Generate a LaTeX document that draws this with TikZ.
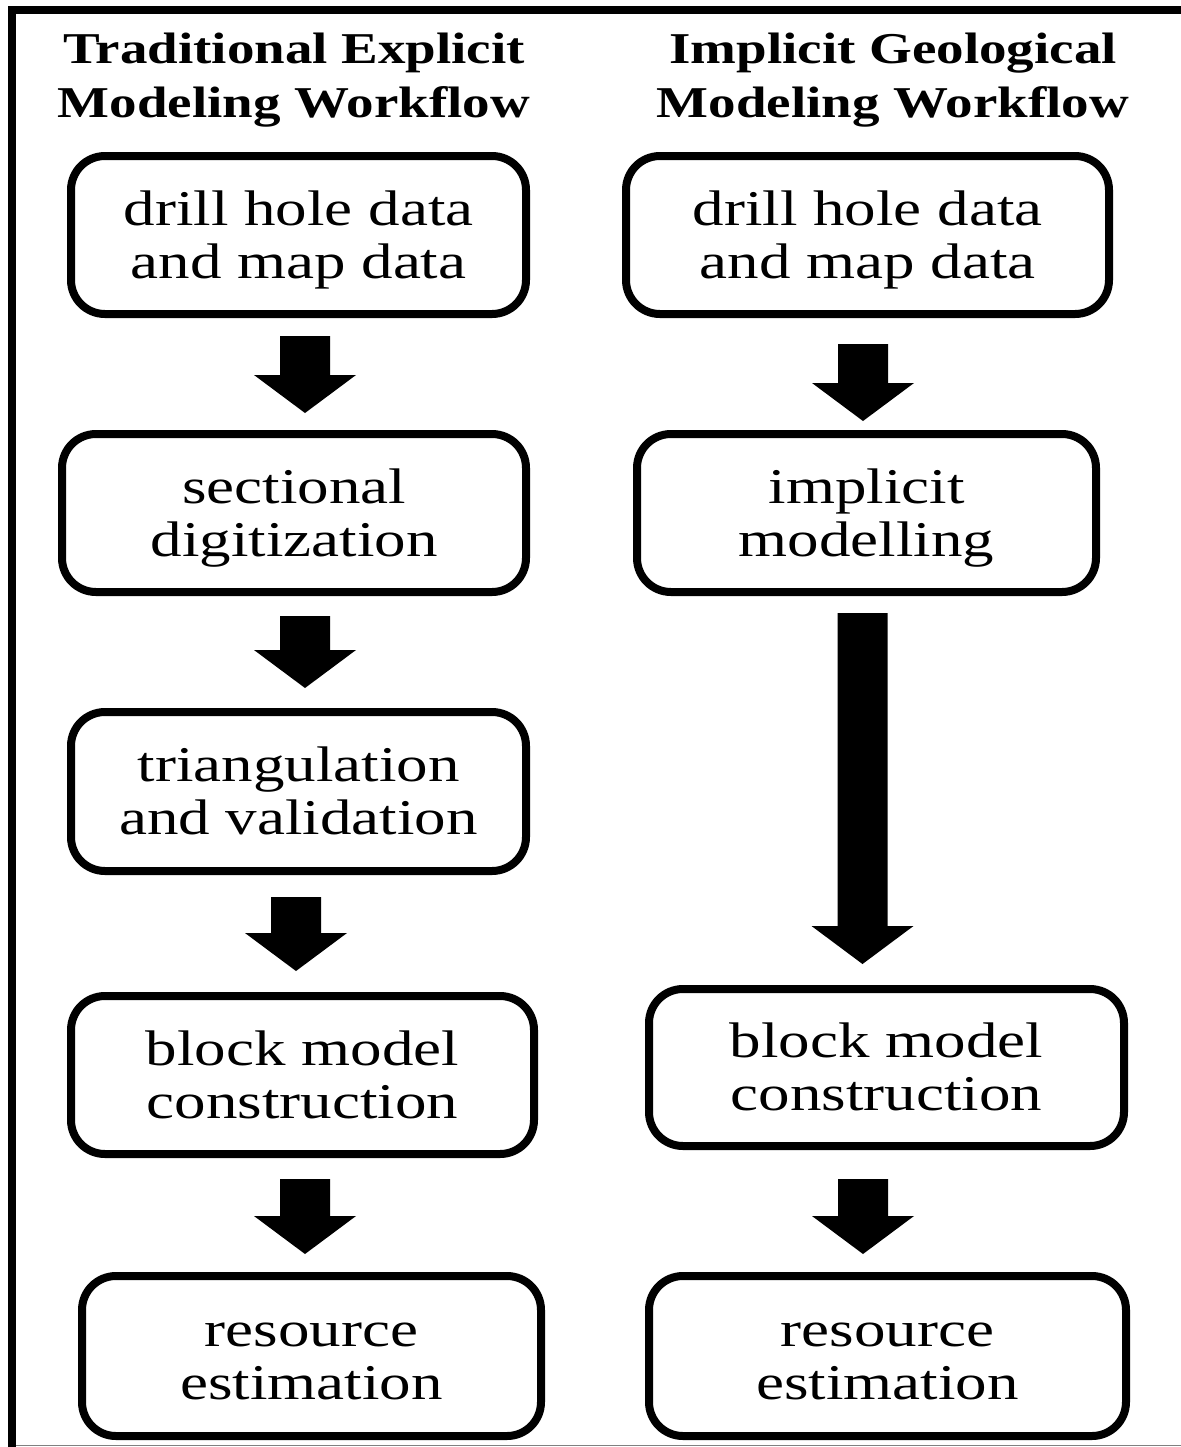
\documentclass[tikz,border=0pt]{standalone}
\usepackage{fontspec}
\setmainfont{Liberation Serif}
\newfontfamily\boxfont[FakeStretch=1.26]{Liberation Serif}
\newfontfamily\titlefont[FakeStretch=1.25]{Liberation Serif Bold}
\usetikzlibrary{calc}
\newcommand\fatarrow[2]{%
  \fill let \p1=(#1), \p2=(#2) in
    (\x1-12.5pt,\y1) -- (\x1+12.5pt,\y1) -- (\x1+12.5pt,\y2+19pt) --
    (\x1+25.5pt,\y2+19pt) -- (\x1,\y2) -- (\x1-25.5pt,\y2+19pt) --
    (\x1-12.5pt,\y2+19pt) -- cycle;}
\begin{document}
\begin{tikzpicture}[x=0.5pt,y=-0.5pt,
  stepbox/.style={draw=black, line width=4pt, rounded corners=17pt, fill=white,
    inner sep=0pt, align=center, text height=43pt, text depth=0pt,
    font=\boxfont\fontsize{25pt}{26.5pt}\selectfont},
  titletext/.style={inner sep=0pt, align=center, text height=0pt, text depth=0pt,
    font=\titlefont\fontsize{22pt}{27pt}\selectfont}]
\useasboundingbox (0,0) rectangle (1181,1447);
\clip (0,0) rectangle (1181,1447);
\fill[white] (0,0) rectangle (1181,1447);
% frame
\draw[line width=4pt] (1200,10) -- (12,10) -- (12,1460);
\draw[gray, line width=0.6pt] (16,1445.5) -- (1181,1445.5);
% titles (reference point = baseline of last line)
\node[titletext] (t1) at (294,117) {Traditional Explicit\\Modeling Workflow};
\node[titletext] (t2) at (893,117) {Implicit Geological\\Modeling Workflow};
% left column
\node[stepbox, minimum width=227.5pt, minimum height=79pt] (L1) at (298.5,235) {drill hole data\\and map data};
\node[stepbox, minimum width=232pt, minimum height=79pt] (L2) at (294,513) {sectional\\digitization};
\node[stepbox, minimum width=227.5pt, minimum height=79.5pt] (L3) at (298.5,791.5) {triangulation\\and validation};
\node[stepbox, minimum width=231.5pt, minimum height=79pt] (L4) at (302.5,1075) {block model\\construction};
\node[stepbox, minimum width=229.5pt, minimum height=80pt] (L5) at (311.5,1356) {resource\\estimation};
% right column
\node[stepbox, minimum width=241.5pt, minimum height=79pt] (R1) at (867.5,235) {drill hole data\\and map data};
\node[stepbox, minimum width=229.5pt, minimum height=79pt] (R2) at (866.5,513) {implicit\\modelling};
\node[stepbox, minimum width=237.5pt, minimum height=78.5pt] (R3) at (886.5,1067.5) {block model\\construction};
\node[stepbox, minimum width=238.5pt, minimum height=80pt] (R4) at (887.5,1356) {resource\\estimation};
% arrows
\coordinate (a1s) at ($(L1.south)+(6.5,18)$);
\coordinate (a1e) at ($(L2.north)+(11,-17)$);
\coordinate (a2s) at ($(L2.south)+(11,20)$);
\coordinate (a2e) at ($(L3.north)+(6.5,-20)$);
\coordinate (a3s) at ($(L3.south)+(-2.5,22)$);
\coordinate (a3e) at ($(L4.north)+(-6.5,-21)$);
\coordinate (a4s) at ($(L4.south)+(2.5,21)$);
\coordinate (a4e) at ($(L5.north)+(-6.5,-18)$);
\coordinate (a5s) at ($(R1.south)+(-4.5,26)$);
\coordinate (a5e) at ($(R2.north)+(-3.5,-9)$);
\coordinate (a6s) at ($(R2.south)+(-4,17)$);
\coordinate (a6e) at ($(R3.north)+(-24,-21)$);
\coordinate (a7s) at ($(R3.south)+(-23.5,29)$);
\coordinate (a7e) at ($(R4.north)+(-24.5,-18)$);
\fatarrow{a1s}{a1e}
\fatarrow{a2s}{a2e}
\fatarrow{a3s}{a3e}
\fatarrow{a4s}{a4e}
\fatarrow{a5s}{a5e}
\fatarrow{a6s}{a6e}
\fatarrow{a7s}{a7e}
\end{tikzpicture}
\end{document}
